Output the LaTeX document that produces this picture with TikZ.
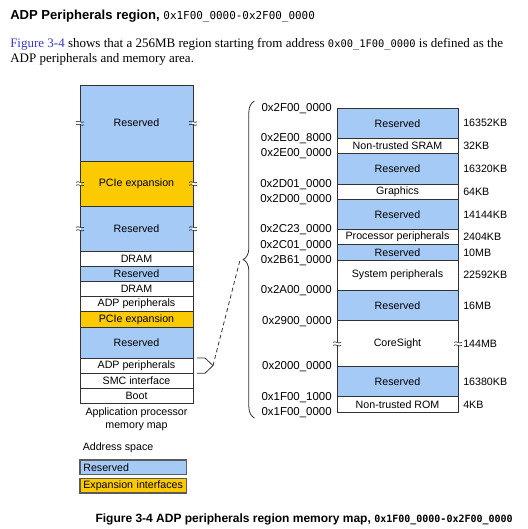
\documentclass[tikz,border=0pt]{standalone}
\usepackage{fontspec}
\setmainfont{Liberation Serif}
\setsansfont{Liberation Sans}
\setmonofont{DejaVu Sans Mono}
\usetikzlibrary{positioning,decorations.pathreplacing}
\definecolor{resblue}{RGB}{166,202,246}
\definecolor{pcieyel}{RGB}{252,202,0}
\definecolor{figblue}{RGB}{58,58,205}
\definecolor{lineg}{RGB}{50,50,50}
\newcommand\mapfont{\sffamily\fontsize{8}{9.5}\selectfont}
% break mark on a box edge
\newcommand\cutmark[1]{%
  \begin{scope}[shift={(#1)}]
    \fill[white] (-1.3,-1.3) rectangle (1.3,1.3);
    \draw[lineg,line width=0.5pt] (-4,-1.2) .. controls (-1.5,-3.2) and (1.5,0.8) .. (4,-1.2);
    \draw[lineg,line width=0.5pt] (-4,1.8) .. controls (-1.5,-0.2) and (1.5,3.8) .. (4,1.8);
  \end{scope}}
\tikzset{memrow/.style={
    % The shape:
    rectangle, inner sep=0pt, outer sep=0pt,
    % The size:
    minimum height=11.4pt,
    minimum width=84.75pt,
    % The border:
    draw=lineg, line width=0.6pt,
    % Font
    font=\mapfont
    },
    wide/.style={minimum width=90.75pt},
    rsv/.style={fill=resblue},
    pcie/.style={fill=pcieyel},
    addr/.style={anchor=base east, inner sep=0pt, font=\sffamily\fontsize{8.6}{10}\selectfont},
    size/.style={anchor=west, inner sep=0pt, font=\mapfont},
    legbox/.style={
    rectangle, outer sep=0pt,
    inner xsep=2.5pt, inner ysep=0pt,
    minimum height=10.9pt, text width=75pt, align=left,
    draw=lineg!80, line width=1.1pt,
    font=\mapfont
    },
}

\begin{document}
\begin{tikzpicture}[x=0.75pt, y=-0.75pt, node distance=0pt]
    \useasboundingbox (0,0) rectangle (528,529);

    % heading and text
    \node (title) [anchor=base west, inner sep=0pt] at (10,19)
      {\sffamily\bfseries\fontsize{9.8}{12}\selectfont ADP Peripherals region, {\mdseries\ttfamily\fontsize{8.2}{10}\selectfont 0x1F00\_0000-0x2F00\_0000}};
    \node (intro1) [anchor=base west, inner sep=0pt] at (10,47)
      {\fontsize{9.75}{12}\selectfont{\color{figblue}Figure 3-4} shows that a 256MB region starting from address {\ttfamily\fontsize{7.8}{10}\selectfont 0x00\_1F00\_0000} is defined as the};
    \node (intro2) [anchor=base west, inner sep=0pt] at (10,62)
      {\fontsize{9.75}{12}\selectfont ADP peripherals and memory area.};

    % application processor map
    \node (res1)  [memrow,rsv,minimum height=57pt,anchor=north west] at (80,85) {Reserved};
    \node (pcie1) [memrow,pcie,minimum height=33.75pt,below=of res1] {PCIe expansion};
    \node (res2)  [memrow,rsv,minimum height=33.75pt,below=of pcie1] {Reserved};
    \node (dram1) [memrow,below=of res2]        {DRAM};
    \node (res3)  [memrow,rsv,below=of dram1]   {Reserved};
    \node (dram2) [memrow,below=of res3]        {DRAM};
    \node (adp1)  [memrow,below=of dram2]       {ADP peripherals};
    \node (pcie2) [memrow,pcie,below=of adp1]   {PCIe expansion};
    \node (res4)  [memrow,rsv,minimum height=23.25pt,below=of pcie2] {Reserved};
    \node (adp2)  [memrow,below=of res4]        {ADP peripherals};
    \node (smc)   [memrow,below=of adp2]        {SMC interface};
    \node (boot)  [memrow,below=of smc]         {Boot};
    \node (apmap) [below=2pt of boot, inner sep=1pt, align=center, font=\mapfont]
      {Application processor\\memory map};

    \cutmark{res1.west}  \cutmark{res1.east}
    \cutmark{pcie1.west} \cutmark{pcie1.east}
    \cutmark{res2.west}  \cutmark{res2.east}

    % ADP peripherals region
    \node (r1)     [memrow,wide,rsv,minimum height=22.8pt,anchor=north west] at (337,108) {Reserved};
    \node (sram)   [memrow,wide,below=of r1]     {Non-trusted SRAM};
    \node (r2)     [memrow,wide,rsv,minimum height=22.8pt,below=of sram] {Reserved};
    \node (gfx)    [memrow,wide,below=of r2]     {Graphics};
    \node (r3)     [memrow,wide,rsv,minimum height=22.8pt,below=of gfx] {Reserved};
    \node (procp)  [memrow,wide,below=of r3]     {Processor peripherals};
    \node (r4)     [memrow,wide,rsv,below=of procp] {Reserved};
    \node (sysp)   [memrow,wide,minimum height=22.8pt,below=of r4] {System peripherals};
    \node (r5)     [memrow,wide,rsv,minimum height=22.8pt,below=of sysp] {Reserved};
    \node (csight) [memrow,wide,minimum height=34.2pt,below=of r5] {CoreSight};
    \node (r6)     [memrow,wide,rsv,minimum height=22.8pt,below=of csight] {Reserved};
    \node (rom)    [memrow,wide,below=of r6]     {Non-trusted ROM};

    \cutmark{csight.west} \cutmark{csight.east}

    % addresses
    \node [addr] at ([xshift=-3.75pt,yshift=-2.5pt]r1.north west)     {0x2F00\_0000};
    \node [addr] at ([xshift=-3.75pt,yshift=-2.5pt]sram.north west)   {0x2E00\_8000};
    \node [addr] at ([xshift=-3.75pt,yshift=-2.5pt]r2.north west)     {0x2E00\_0000};
    \node [addr] at ([xshift=-3.75pt,yshift=-2.5pt]gfx.north west)    {0x2D01\_0000};
    \node [addr] at ([xshift=-3.75pt,yshift=-2.5pt]r3.north west)     {0x2D00\_0000};
    \node [addr] at ([xshift=-3.75pt,yshift=-2.5pt]procp.north west)  {0x2C23\_0000};
    \node [addr] at ([xshift=-3.75pt,yshift=-2.5pt]r4.north west)     {0x2C01\_0000};
    \node [addr] at ([xshift=-3.75pt,yshift=-2.5pt]sysp.north west)   {0x2B61\_0000};
    \node [addr] at ([xshift=-3.75pt,yshift=-2.5pt]r5.north west)     {0x2A00\_0000};
    \node [addr] at ([xshift=-3.75pt,yshift=-2.5pt]csight.north west) {0x2900\_0000};
    \node [addr] at ([xshift=-3.75pt,yshift=-2.5pt]r6.north west)     {0x2000\_0000};
    \node [addr] at ([xshift=-3.75pt,yshift=-2.5pt]rom.north west)    {0x1F00\_1000};
    \node [addr] at ([xshift=-3.75pt,yshift=-2.5pt]rom.south west)    {0x1F00\_0000};

    % sizes
    \node [size] at ([xshift=3.75pt]r1.east)     {16352KB};
    \node [size] at ([xshift=3.75pt]sram.east)   {32KB};
    \node [size] at ([xshift=3.75pt]r2.east)     {16320KB};
    \node [size] at ([xshift=3.75pt]gfx.east)    {64KB};
    \node [size] at ([xshift=3.75pt]r3.east)     {14144KB};
    \node [size] at ([xshift=3.75pt]procp.east)  {2404KB};
    \node [size] at ([xshift=3.75pt]r4.east)     {10MB};
    \node [size] at ([xshift=3.75pt]sysp.east)   {22592KB};
    \node [size] at ([xshift=3.75pt]r5.east)     {16MB};
    \node [size] at ([xshift=3.75pt]csight.east) {144MB};
    \node [size] at ([xshift=3.75pt]r6.east)     {16380KB};
    \node [size] at ([xshift=3.75pt]rom.east)    {4KB};

    % zoom from the map to the region
    \coordinate (adptip)   at ([xshift=15pt]adp2.east);
    \coordinate (bracetop) at (254.5,101);
    \coordinate (bracebot) at (254.5,418);
    \coordinate (bracetip) at (240,260);
    \draw[lineg,line width=0.6pt] ([xshift=3pt]adp2.north east) -- ([xshift=9pt]adp2.north east)
      -- (adptip) -- ([xshift=9pt]adp2.south east) -- ([xshift=3pt]adp2.south east);
    \draw[lineg,line width=0.6pt,decorate,decoration={brace,amplitude=8.5pt}] (bracebot) -- (bracetop);
    \draw[lineg,line width=0.6pt,dash pattern=on 3pt off 2.2pt] (adptip) -- (bracetip);

    % legend
    \node (addrsp) [anchor=west, inner sep=0pt, font=\mapfont] at (82.5,448) {Address space};
    \node (legres) [legbox,rsv,anchor=north west] at (80,460) {Reserved};
    \node (legexp) [legbox,pcie,below=3pt of legres] {Expansion interfaces};

    % caption
    \node (caption) [anchor=base east, inner sep=0pt] at (513,522)
      {\sffamily\bfseries\fontsize{9}{10}\selectfont Figure 3-4 ADP peripherals region memory map, {\ttfamily\fontsize{7.5}{10}\selectfont 0x1F00\_0000-0x2F00\_0000}};
\end{tikzpicture}
\end{document}
